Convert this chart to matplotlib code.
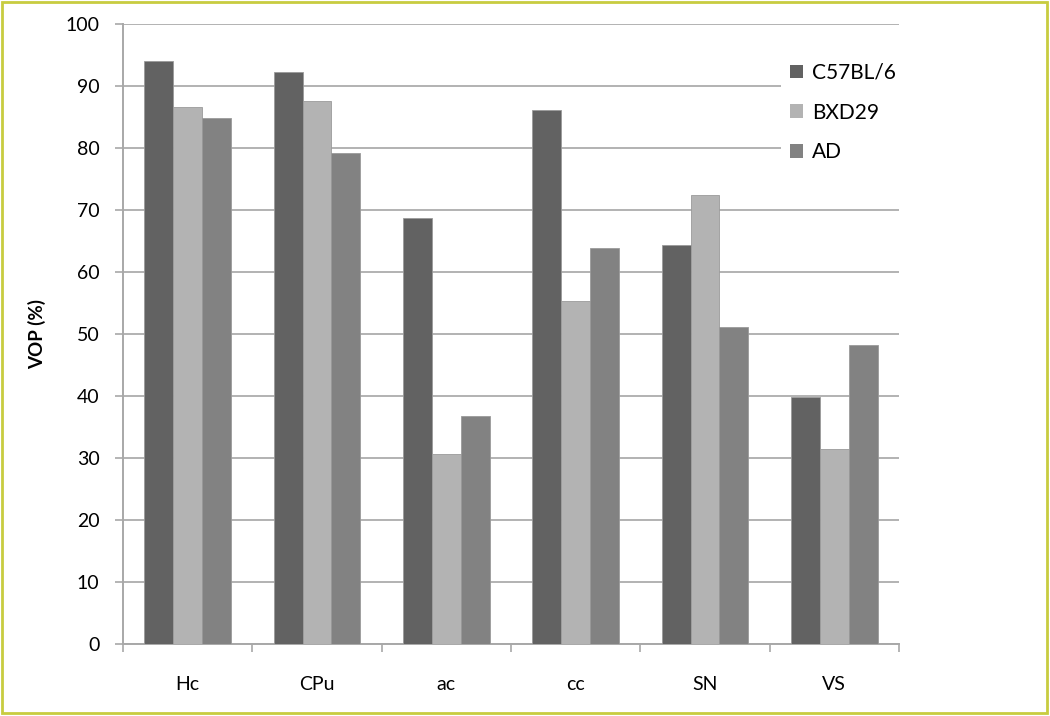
import numpy as np
import matplotlib
matplotlib.use("Agg")
import matplotlib.pyplot as plt
from matplotlib.patches import Rectangle

regions = ["Hc", "CPu", "ac", "cc", "SN", "VS"]
c57bl6 = [94.1, 92.3, 68.7, 86.2, 64.3, 39.9]
bxd29 = [86.6, 87.6, 30.6, 55.3, 72.4, 31.4]
ad = [84.9, 79.2, 36.8, 63.8, 51.2, 48.2]
series = ["C57BL/6", "BXD29", "AD"]
colors = ["#626262", "#b3b3b3", "#828282"]
yticks = list(range(0, 101, 10))

plt.rcParams["font.family"] = ["Lato", "DejaVu Sans"]

fig = plt.figure(figsize=(10.5, 7.16), dpi=100)
ax = fig.add_axes([123 / 1050, 1 - 644 / 716, 776 / 1050, 620 / 716])

xs = np.arange(len(regions))
w = 0.224
for i, (vals, lab, c) in enumerate(zip([c57bl6, bxd29, ad], series, colors)):
    ax.bar(xs + (i - 1) * w, vals, w, color=c, edgecolor="#9a9a9a",
           linewidth=0.6, label=lab, zorder=3)

ax.set_xlim(-0.5, len(regions) - 0.5)
ax.set_ylim(0, 100)
ax.set_yticks(yticks)
ax.set_yticklabels([str(t) for t in yticks], fontsize=14)
ax.set_xticks(xs)
ax.set_xticklabels(regions, fontsize=14)
ax.set_xticks(np.arange(-0.5, len(regions), 1.0), minor=True)
ax.tick_params(axis="x", which="major", length=0, pad=23)
ax.tick_params(axis="x", which="minor", length=6, color="#a8a8a8", width=1.2)
ax.tick_params(axis="y", length=6, color="#a8a8a8", width=1.2, pad=11)
ax.yaxis.grid(True, color="#b2b2b2", linewidth=1.4, zorder=0)
ax.set_axisbelow(True)
for s in ("top", "right"):
    ax.spines[s].set_visible(False)
for s in ("left", "bottom"):
    ax.spines[s].set_color("#a8a8a8")
    ax.spines[s].set_linewidth(1.4)

ax.set_ylabel("VOP (%)", fontsize=13.5, fontweight="bold", labelpad=14)

leg = ax.legend(loc="upper left", bbox_to_anchor=(771 / 1050, 1 - 44 / 716),
                bbox_transform=fig.transFigure, fontsize=15, frameon=True,
                facecolor="white", edgecolor="none", framealpha=1,
                fancybox=False, handlelength=0.62, handleheight=0.62,
                handletextpad=0.45, labelspacing=0.95, borderpad=0.4)
for h in leg.legend_handles:
    h.set_edgecolor("none")

fig.patches.append(Rectangle((0.002, 0.004), 0.995, 0.993,
                             transform=fig.transFigure, fill=False,
                             edgecolor="#c8cc40", linewidth=2))

fig.savefig("out.png", dpi=100)
